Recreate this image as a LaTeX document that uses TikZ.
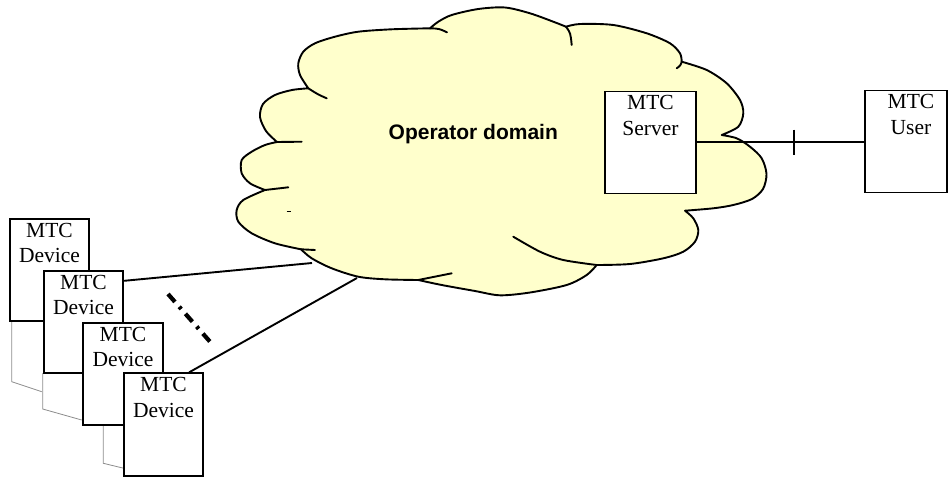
\documentclass[tikz,border=0pt]{standalone}
\usepackage{fontspec}
\setmainfont{Liberation Serif}
\setsansfont{Liberation Sans}
\definecolor{cloudyellow}{RGB}{255,255,204}
\definecolor{shadowgray}{RGB}{140,140,140}
\tikzset{
  boxshape/.style={draw=black, fill=white, line width=1.9pt, rectangle, inner sep=0pt,
    minimum width=79.5pt, minimum height=102.5pt},
  lbl/.style={inner sep=0pt, align=center, font=\fontsize{21.5}{25.5}\selectfont},
  cloudline/.style={draw=black, line width=1.9pt, line join=round},
  extline/.style={draw=black, line width=1.9pt, line cap=round},
  conn/.style={draw=black, line width=1.9pt},
  shadowline/.style={draw=shadowgray, line width=0.8pt},
  dashdotline/.style={draw=black, line width=4.2pt, dash pattern=on 10.5pt off 6.5pt on 3pt off 6.4pt}
}
\begin{document}
\begin{tikzpicture}[x=1pt,y=-1pt]
\useasboundingbox (0,0) rectangle (948,477);

% cloud
\path[cloudline, fill=cloudyellow]
  plot[smooth] coordinates {(308.3,88.3) (300,75) (298.3,63.3) (303.3,51.7) (315,43.3) (335,36.7) (358.3,31.7) (391.7,29.3) (430,28.3)}
  -- plot[smooth] coordinates {(430,28.3) (438.3,21.7) (451.7,15) (478.3,9) (505,7.5) (530,13.3) (553.3,21.7) (566,26.7)}
  -- plot[smooth] coordinates {(566,26.7) (580,24) (613.3,25) (646.7,33.3) (670,43.3) (680,53.3) (681.7,61.7)}
  -- plot[smooth] coordinates {(681.7,61.7) (706.7,70) (726.7,83.3) (740,100) (743.3,113.3) (738.3,126.7) (721.7,135)}
  -- plot[smooth] coordinates {(721.7,135) (736.7,138.3) (750,146.7) (761.7,158.3) (766.5,174) (763,189) (752,199) (733.3,205) (713.3,208.3) (685,210.7)}
  -- plot[smooth] coordinates {(685,210.7) (693.3,218.3) (698.3,230) (695,241.7) (683.3,251.7) (663.3,258.3) (630,264) (596.7,265)}
  -- plot[smooth] coordinates {(596.7,265) (586.7,275) (566.7,285) (530,292.5) (500,295.3) (475,291) (441.7,285) (418.3,280)}
  -- plot[smooth] coordinates {(418.3,280) (385,279.3) (358.3,276.7) (331.7,268.3) (311.7,258.3) (301,249.3)}
  -- plot[smooth] coordinates {(301,249.3) (275,243.3) (251.7,233.3) (238.3,221.7) (236.7,210) (243.3,200) (265,190)}
  -- plot[smooth] coordinates {(265,190) (250,183.3) (241.7,173.3) (241.7,160) (251.7,151.7) (265,145) (277,142)}
  -- plot[smooth] coordinates {(277,142) (266,131) (260,117) (263,104) (275,95) (292,90) (308.3,88.3)}
  -- cycle;
% inner strokes of the cloud
\draw[extline] (430,28.3) .. controls (439,28.6) .. (447,32.3);
\draw[extline] (566,26.7) .. controls (570.5,33) .. (571.7,45);
\draw[extline] (681.7,61.7) .. controls (680.5,65.5) .. (676.7,68.3);
\draw[extline] plot[smooth] coordinates {(596.7,265) (563.3,260) (540,251.7) (513.3,236.7)};
\draw[extline] (418.3,280) .. controls (435,276) .. (451.7,273.3);
\draw[extline] (301,249.3) -- (315,250);
\draw[extline] (265,190) .. controls (276,188) .. (288.3,187.3);
\draw[extline] (277,142) -- (301.7,141.7);
\draw[extline] (308.3,88.3) .. controls (318,94.5) .. (326.7,98.3);
\draw[black, line width=0.8pt] (286.5,211.5) -- (290.5,211.5);

\node[font=\sffamily\bfseries\fontsize{21}{25}\selectfont, inner sep=0pt, anchor=base] (op) at (473.3,139) {Operator domain};

% server and user
\node[boxshape, minimum width=91pt, minimum height=102pt] (srv) at (650.5,142.5) {};
\node[lbl] (srvl) at ([yshift=-5pt]srv.north) [anchor=north] {MTC\\Server};
\node[boxshape, minimum width=82pt, minimum height=102pt] (usr) at (906,141.5) {};
\node[lbl] (usrl) at ([xshift=5pt,yshift=-5pt]usr.north) [anchor=north] {MTC\\User};
\coordinate (tk) at (794,142);
\draw[conn] (srv.east |- tk) -- (usr.west |- tk);
\draw[conn] ([yshift=12.5pt]tk) -- ([yshift=-12.5pt]tk);

% shadow outlines of the stacked devices
\draw[shadowline] (11.7,321) -- (11.7,381.7) -- (41.7,391.7);
\draw[shadowline] (42.7,373) -- (42.7,409) -- (81.7,420);
\draw[shadowline] (103.3,425) -- (103.3,463.3) -- (124,468.3);

% devices
\node[boxshape] (d1) at (49.5,270) {};
\node[lbl, anchor=north] (d1l) at ([yshift=-5pt]d1.north) {MTC\\Device};
\node[boxshape] (d2) at (83.5,322) {};
\node[lbl, anchor=north] (d2l) at ([yshift=-5pt]d2.north) {MTC\\Device};
\node[boxshape] (d3) at (123,374) {};
\node[lbl, anchor=north] (d3l) at ([yshift=-5pt]d3.north) {MTC\\Device};
\node[boxshape] (d4) at (163.5,424.5) {};
\node[lbl, anchor=north] (d4l) at ([yshift=-5pt]d4.north) {MTC\\Device};

% connectors to the cloud
\coordinate (c1) at (312,263);
\coordinate (c2) at (357,278);
\draw[conn] ([yshift=-11pt]d2.north east) -- (c1);
\draw[conn] ([xshift=-15pt]d4.north east) -- (c2);

% dash-dot ellipsis
\coordinate (dd1) at (168,294);
\coordinate (dd2) at (212.3,344.3);
\draw[dashdotline] (dd1) -- (dd2);
\end{tikzpicture}
\end{document}
